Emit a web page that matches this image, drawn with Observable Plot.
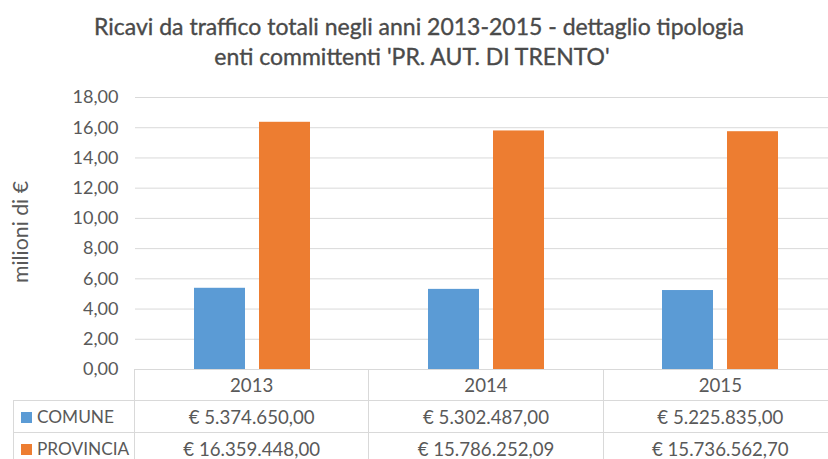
<!DOCTYPE html>
<html><head><meta charset="utf-8">
<script src="https://cdn.jsdelivr.net/npm/d3@7"></script>
<script src="https://cdn.jsdelivr.net/npm/@observablehq/plot@0.6"></script>
<style>
html,body{margin:0;padding:0;background:#fff;overflow:hidden;width:828px;height:459px;}
#wrap{position:relative;width:838px;height:470px;font-family:Lato,sans-serif;color:#595959;}
#title{height:80px;position:relative;color:#4a4a4a;}
#title div{position:absolute;white-space:nowrap;transform:translate(-50%,-50%);-webkit-text-stroke:0.35px #4a4a4a;}
#ylab{position:absolute;left:20px;top:232px;transform:translate(-50%,-50%) rotate(-90deg);white-space:nowrap;}
#tbl{position:absolute;left:13px;top:369px;border-collapse:collapse;table-layout:fixed;}
#tbl td{border:1px solid #d9d9d9;text-align:center;padding:0;white-space:nowrap;overflow:hidden;}
#tbl td.lab{text-align:left;padding-left:7px;}
#tbl tr.h td.blank{border-top:none;border-left:none;}
.sw{display:inline-block;width:11px;height:11px;margin-right:5px;vertical-align:0px;}
</style></head>
<body>
<div id="wrap">
  <div id="title"></div>
  <div id="chart"></div>
  <div id="ylab"></div>
  <table id="tbl"></table>
</div>
<script>
const titleLines = ["Ricavi da traffico totali negli anni 2013-2015 - dettaglio tipologia", "enti committenti 'PR. AUT. DI TRENTO'"];
const yLabel = "milioni di €";
const years = ["2013", "2014", "2015"];
const series = ["COMUNE", "PROVINCIA"];
const colors = ["#5b9bd5", "#ed7d31"];
const comune = [5374650.00, 5302487.00, 5225835.00];
const provincia = [16359448.00, 15786252.09, 15736562.70];
const yTicks = [0, 2, 4, 6, 8, 10, 12, 14, 16, 18];

const it = d3.formatLocale({decimal: ",", thousands: ".", grouping: [3], currency: ["€ ", ""]});
const tickFmt = it.format(".2f");
const eurFmt = it.format("$,.2f");

// font sizes fitted so that text widths match the reference (Calibri-like metrics)
const FAMILY = "Lato";
const ctx = document.createElement("canvas").getContext("2d");
function fit(text, target, weight = "normal") {
  ctx.font = `${weight} 100px ${FAMILY}`;
  return +(100 * target / ctx.measureText(text).width).toFixed(2);
}
const titleSize = fit(titleLines[0], 650);
const tickSize = fit("18,00", 46);
const ylabSize = fit(yLabel, 102);
const cellSize = fit("€ 5.374.650,00", 126);
const legSize = fit("COMUNE", 77);

const titleDiv = document.getElementById("title");
const titlePos = [[419, 26], [412, 56]];
titleLines.forEach((t, i) => {
  const d = document.createElement("div");
  d.textContent = t;
  d.style.left = titlePos[i][0] + "px";
  d.style.top = titlePos[i][1] + "px";
  d.style.fontSize = titleSize + "px";
  titleDiv.appendChild(d);
});
const yl = document.getElementById("ylab");
yl.textContent = yLabel;
yl.style.fontSize = ylabSize + "px";

const values = {COMUNE: comune, PROVINCIA: provincia};
const rows = years.flatMap((y, i) => series.map(s => ({year: y, serie: s, v: values[s][i] / 1e6})));

const W = 838, ML = 134, MR = 1;
const plot = Plot.plot({
  width: W, height: 290, marginTop: 17, marginBottom: 1, marginLeft: ML, marginRight: MR,
  style: {fontFamily: FAMILY, fontSize: tickSize + "px", color: "#595959", background: "transparent", overflow: "visible"},
  fx: {domain: years, padding: 0, axis: null},
  x: {domain: series, paddingInner: 0.212, paddingOuter: 0.879, axis: null},
  y: {domain: [0, 18], axis: null},
  color: {domain: series, range: colors},
  marks: [
    Plot.gridY(yTicks, {stroke: "#d9d9d9", strokeOpacity: 1}),
    Plot.axisY(yTicks, {tickSize: 0, tickPadding: 17, tickFormat: tickFmt, label: null, fontSize: tickSize, fill: "#595959"}),
    Plot.barY(rows, {fx: "year", x: "serie", y: "v", fill: "serie"}),
    Plot.ruleY([0], {stroke: "#d9d9d9"})
  ]
});
document.getElementById("chart").appendChild(plot);

// data table aligned with the facet bands
const colW = (W - ML - MR) / years.length;
const tbl = document.getElementById("tbl");
tbl.style.fontSize = cellSize + "px";
let html = `<colgroup><col style="width:${ML - 13}px">` + years.map(() => `<col style="width:${colW}px">`).join("") + `</colgroup>`;
html += `<tr class="h" style="height:31px"><td class="blank"></td>` + years.map(y => `<td>${y}</td>`).join("") + `</tr>`;
series.forEach((s, j) => {
  html += `<tr style="height:32px"><td class="lab" style="font-size:${legSize}px"><span class="sw" style="background:${colors[j]}"></span>${s}</td>` +
    values[s].map(v => `<td>${eurFmt(v)}</td>`).join("") + `</tr>`;
});
tbl.innerHTML = html;
tbl.style.width = (W - 13) + "px";
</script>
</body></html>
